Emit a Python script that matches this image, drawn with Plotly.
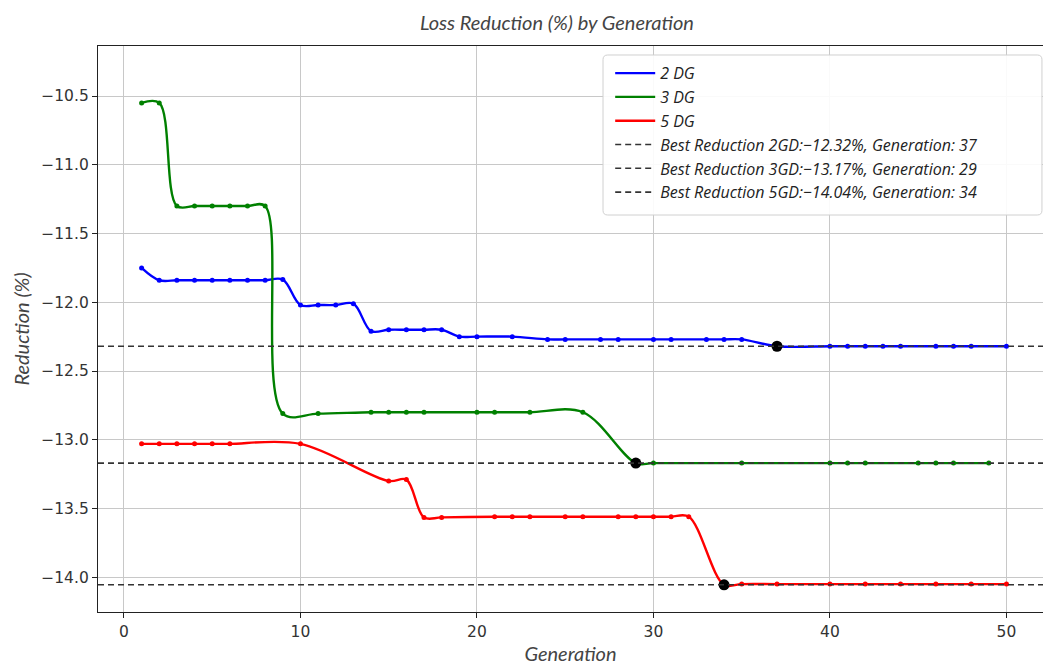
import plotly.graph_objects as go

# ---- data ----
gen_2dg = [1, 2, 3, 4, 5, 6, 7, 8, 9, 10, 11, 12, 13, 14, 15, 16, 17, 18, 19, 20, 22, 24, 25,
           27, 28, 30, 31, 33, 34, 35, 37, 40, 41, 42, 43, 44, 46, 47, 48, 50]
red_2dg = [-11.75, -11.84, -11.84, -11.84, -11.84, -11.84, -11.84, -11.84, -11.835, -12.02,
           -12.02, -12.02, -12.01, -12.21, -12.20, -12.20, -12.20, -12.20, -12.25, -12.25,
           -12.25, -12.27, -12.27, -12.27, -12.27, -12.27, -12.27, -12.27, -12.27, -12.27,
           -12.32, -12.32, -12.32, -12.32, -12.32, -12.32, -12.32, -12.32, -12.32, -12.32]

gen_3dg = [1, 2, 3, 4, 5, 6, 7, 8, 9, 11, 14, 15, 16, 17, 20, 21, 23, 26, 29, 30, 35,
           40, 41, 42, 45, 46, 47, 49]
red_3dg = [-10.55, -10.55, -11.30, -11.30, -11.30, -11.30, -11.30, -11.30, -12.81, -12.81,
           -12.80, -12.80, -12.80, -12.80, -12.80, -12.80, -12.80, -12.80, -13.17, -13.17,
           -13.17, -13.17, -13.17, -13.17, -13.17, -13.17, -13.17, -13.17]

gen_5dg = [1, 2, 3, 4, 5, 6, 10, 15, 16, 17, 18, 21, 22, 23, 25, 26, 28, 29, 30, 31, 32,
           34, 35, 37, 40, 42, 44, 46, 48, 50]
red_5dg = [-13.03, -13.03, -13.03, -13.03, -13.03, -13.03, -13.03, -13.30, -13.29, -13.565,
           -13.565, -13.56, -13.56, -13.56, -13.56, -13.56, -13.56, -13.56, -13.56, -13.56,
           -13.56, -14.055, -14.05, -14.05, -14.05, -14.05, -14.05, -14.05, -14.05, -14.05]

series_names = ["2 DG", "3 DG", "5 DG"]
series_colors = ["#0000ff", "#008000", "#ff0000"]
best_gen = [37, 29, 34]
best_val = [-12.32, -13.17, -14.055]
best_labels = [
    "Best Reduction 2GD:\u221212.32%, Generation: 37",
    "Best Reduction 3GD:\u221213.17%, Generation: 29",
    "Best Reduction 5GD:\u221214.04%, Generation: 34",
]
x_ticks = [0, 10, 20, 30, 40, 50]
y_ticks = [-14.0, -13.5, -13.0, -12.5, -12.0, -11.5, -11.0, -10.5]

FONT = "Lato"
LEG_FONT = "Open Sans"
fig = go.Figure()

gens = [gen_2dg, gen_3dg, gen_5dg]
vals = [red_2dg, red_3dg, red_5dg]
for name, color, g, v in zip(series_names, series_colors, gens, vals):
    fig.add_trace(go.Scatter(
        x=g, y=v, mode="lines", name=name,
        line=dict(color=color, width=2.4, shape="spline", smoothing=1.0),
    ))
for name, color, g, v in zip(series_names, series_colors, gens, vals):
    fig.add_trace(go.Scatter(
        x=g, y=v, mode="markers", showlegend=False, hoverinfo="skip",
        marker=dict(color=color, size=5),
    ))

for val, lab in zip(best_val, best_labels):
    fig.add_hline(y=val, line=dict(color="#333333", width=1.6, dash="6px,4px"),
                  showlegend=True, name=lab, layer="above")

fig.add_trace(go.Scatter(
    x=best_gen, y=best_val, mode="markers", showlegend=False,
    marker=dict(color="black", size=11),
))

# legend frame (rounded box, drawn in paper coordinates)
bx0, bx1, by0, by1, r = 0.5344, 0.9989, 0.7014, 0.9841, 0.005
ry = r * 945 / 566
legend_box = (f"M{bx0 + r},{by1} L{bx1 - r},{by1} Q{bx1},{by1} {bx1},{by1 - ry} "
              f"L{bx1},{by0 + ry} Q{bx1},{by0} {bx1 - r},{by0} L{bx0 + r},{by0} "
              f"Q{bx0},{by0} {bx0},{by0 + ry} L{bx0},{by1 - ry} Q{bx0},{by1} {bx0 + r},{by1} Z")
fig.add_shape(type="path", path=legend_box, xref="paper", yref="paper",
              fillcolor="rgba(255,255,255,0.9)", line=dict(color="#d0d0d0", width=1),
              layer="above")

fig.update_layout(
    width=1043, height=665,
    margin=dict(l=98, r=0, t=46, b=53),
    paper_bgcolor="white", plot_bgcolor="white",
    title=dict(text="Loss Reduction (%) by Generation", x=0.534, xanchor="center",
               y=0.966, yanchor="middle",
               font=dict(family=FONT, size=20, color="#444444", style="italic")),
    legend=dict(x=0.542, y=0.982, xanchor="left", yanchor="top",
                bgcolor="rgba(0,0,0,0)", borderwidth=0,
                font=dict(family=LEG_FONT, size=16, color="#222222", style="italic"),
                tracegroupgap=0, itemwidth=40),
    showlegend=True,
)
fig.update_xaxes(
    range=[-1.47, 52.07], tickvals=x_ticks, ticks="outside", ticklen=5, tickwidth=1.2,
    tickcolor="#222", showline=True, linecolor="#222", linewidth=1.3, mirror=True,
    showgrid=True, gridcolor="#c8c8c8", gridwidth=1.3, zeroline=False,
    tickfont=dict(family="DejaVu Sans", size=15.5, color="#333"),
    title=dict(text="Generation", standoff=8,
               font=dict(family=FONT, size=20, color="#444", style="italic")),
)
fig.update_yaxes(
    range=[-14.253, -10.136], tickvals=y_ticks, tickformat=".1f", ticks="outside",
    ticklen=5, tickwidth=1.2, tickcolor="#222", showline=True, linecolor="#222",
    linewidth=1.3, mirror=False, showgrid=True, gridcolor="#c8c8c8", gridwidth=1.3,
    zeroline=False, tickfont=dict(family="DejaVu Sans", size=15.5, color="#333"),
    title=dict(text="Reduction (%)", standoff=6,
               font=dict(family=FONT, size=20, color="#444", style="italic")),
)

fig.write_html("out.html")
